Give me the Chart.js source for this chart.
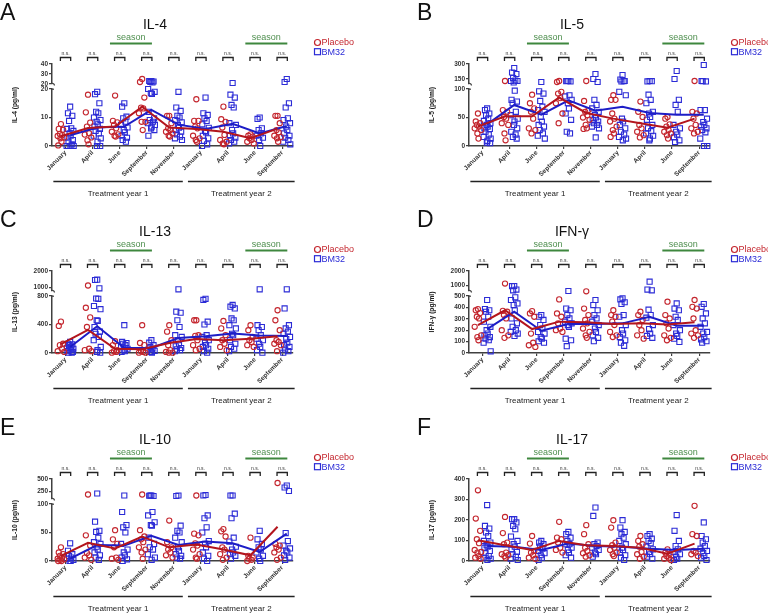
<!DOCTYPE html>
<html>
<head>
<meta charset="utf-8">
<script src="https://cdn.jsdelivr.net/npm/chart.js@4"></script>
<style>
html,body{margin:0;padding:0;width:768px;height:613px;overflow:hidden;background:#fff}
canvas{position:absolute}
</style>
</head>
<body>
<canvas id="pA" width="417" height="207" style="left:0;top:0;width:417px;height:207px"></canvas>
<canvas id="pB" width="417" height="207" style="left:417px;top:0;width:417px;height:207px"></canvas>
<canvas id="pC" width="417" height="207" style="left:0;top:207px;width:417px;height:207px"></canvas>
<canvas id="pD" width="417" height="207" style="left:417px;top:207px;width:417px;height:207px"></canvas>
<canvas id="pE" width="417" height="207" style="left:0;top:415px;width:417px;height:207px"></canvas>
<canvas id="pF" width="417" height="207" style="left:417px;top:415px;width:417px;height:207px"></canvas>
<script>
// time points (x categories)
const months = ['January','April','June','September','November','January','April','June','September'];
const seasonMonths = [[2,3],[7,8]];
const yearLabels = ['Treatment year 1','Treatment year 2'];

// IL-4
const il4Placebo = [
  [7.7,6,5.7,4.2,3.8,3.5,3,2.7,1.5,0.2],
  [18,11.8,8.2,6.8,4.5,4,3,2,0.6],
  [17.7,8.8,8.3,7.4,6.2,5,4.1,3.6,3.3],
  [25,22,17,13.5,13.2,11.5,8.5,8.5,5.6],
  [10.6,10.6,8,6.2,5.6,5,4.4,3.6,3.3],
  [16.4,8.8,8.8,6.8,6.2,3.6,2.7,2.1,1.5],
  [13.8,9.4,8.5,6.5,3.9,2.1,1.5,0.9,0.6],
  [4.1,3.6,3.3,2.7,2.1,1.5,0.9],
  [10.6,10.6,8,5.6,4.8,3.6,3.1,2.7,1.5]
];
const il4Bm32 = [
  [13.8,11.5,10.6,8.8,6.2,6,5.3,4.4,3.6,2.9,2.1,1.5,0.6,0,0,0],
  [19,18.2,15,12,11.5,10,9.1,8.5,7.6,6.8,6,5.3,4.4,3.6,2.7,1.5,0,0],
  [15,13.8,10.3,9.7,8.5,7.4,6.5,5.6,4.8,3.6,2.9,2.1,1.5],
  [23,23,22.5,22,21.5,20,19,18.5,18.3,12,9.7,9.1,8.5,8,7.4,6.8,6.2,5.6,3.6],
  [19,13.5,12.3,10.6,10,9.1,8.3,7.4,6.4,5.6,5,4.1,3.3,2.7,2.1],
  [17,11.5,10.9,9.7,8.8,7.6,6.4,5.3,4.8,3.6,2.7,1.8,0.6,0],
  [21,18,17,14.4,13.5,8,7.4,5.6,4.4,3.6,2.9,2.1,1.5,0.9],
  [10,9.5,6.2,5.6,4.4,3.6,2.9,2.1,0],
  [25,22,15,13.5,9.7,9.1,8,6.8,5.6,4.4,3.6,2.9,2.1,1.5,0.6]
];
const il4PlaceboMedian = [3.4,6.3,6.8,13.8,6.5,6,5,2.7,6.1];
const il4Bm32Median = [3.8,6.5,6.8,12.7,7.5,6,7.8,4.4,7];
const il4LowTicks = [0,10,20];
const il4TopTicks = [20,30,40];

// IL-5
const il5Placebo = [
  [57,43,40,37,34,31,28,22,13],
  [130,63,60,51,48,40,37,22,10],
  [90,75,66,60,48,31,28,22],
  [130,120,95,92,84,75,57,40],
  [130,79,63,60,54,50,46,37,31,30],
  [89,81,81,57,48,43,34,28,22,16],
  [78,60,51,37,31,25,19,15],
  [51,48,38,34,28,25,22,19,13],
  [130,60,57,48,37,31,25,22]
];
const il5Bm32 = [
  [66,63,57,54,48,44,40,37,34,31,30,25,20,16,13,9,6,5],
  [260,215,200,160,135,130,130,115,97,81,78,75,60,54,48,43,37,31,25,20,16,13],
  [120,96,92,79,69,63,60,51,43,37,34,28,22,18,13],
  [130,128,126,130,89,87,81,75,66,57,46,25,22],
  [200,150,120,81,72,66,60,54,50,46,43,40,37,34,31,15],
  [190,145,130,125,128,95,89,48,43,37,31,25,20,16,13,10],
  [130,126,128,90,81,75,60,57,51,46,37,31,26,22,18,13,10],
  [230,150,81,72,60,37,31,25,20,15,10,7],
  [290,130,126,128,63,63,48,42,37,34,31,28,24,13,0,0]
];
const il5PlaceboMedian = [34,52,52,85,58,48,40,32,48];
const il5Bm32Median = [38,72,55,80,62,69,58,55,55];
const il5LowTicks = [0,50,100];
const il5TopTicks = [150,300];

// IL-13
const il13Placebo = [
  [440,380,130,110,60,25,15],
  [1130,635,500,365,60,40,25],
  [165,110,40,25,15,5],
  [390,140,110,25,15,5,5],
  [390,300,180,110,40,15,5,5],
  [460,460,250,240,180,110,60,40],
  [450,345,250,180,130,85,40],
  [390,320,225,180,155,110,85],
  [600,460,320,180,155,130,110,25]
];
const il13Bm32 = [
  [155,130,120,110,85,70,60,50,40,25,15,5,5],
  [1480,1460,960,765,760,660,615,460,450,365,300,270,225,180,85,40,15,5],
  [390,155,140,130,110,85,60,40,25,15],
  [180,145,110,85,60,45,30,15,5],
  [900,580,565,460,365,250,225,180,130,95,70,50,40,25],
  [760,745,440,400,250,225,180,145,110,85,60,25,5],
  [675,650,625,485,460,390,345,270,250,180,130,85,60,25],
  [900,390,365,320,250,200,180,130,85,40,5],
  [900,625,390,345,300,270,225,195,145,110,85,50,25,5]
];
const il13PlaceboMedian = [125,325,60,52,140,195,180,200,235];
const il13Bm32Median = [85,375,70,70,210,235,275,245,240];
const il13LowTicks = [0,400,800];
const il13TopTicks = [1000,2000];

// IFN-gamma
const ifngPlacebo = [
  [385,375,350,318,303,230,155,140,112],
  [1120,370,362,333,303,200,155,133],
  [367,347,318,170,90,68,53],
  [470,347,318,260,215,200,185],
  [580,390,333,290,260,215,185,155,133],
  [375,333,318,275,245,185,155,140],
  [362,333,290,245,200,155,126],
  [450,333,303,260,215,155,133,112],
  [465,405,390,303,200,170,155,133]
];
const ifngBm32 = [
  [465,385,375,362,318,275,230,200,170,155,140,126,112,90,15],
  [950,940,700,650,488,465,435,420,375,303,260,230,200,185,170,150],
  [333,318,290,245,215,185,170,140,126,103,90],
  [600,390,375,333,303,275,260,245,230,126,112,60],
  [465,420,375,333,303,275,245,215,185,155,133,103],
  [480,470,445,430,333,318,245,200,170,140,112,90,63],
  [1250,700,650,380,333,310,245,210,170,150,133],
  [435,390,375,318,290,245,200,170,150,126,97],
  [430,405,347,303,260,230,185,170,140,120,103,90]
];
const ifngPlaceboMedian = [245,375,210,275,270,255,260,250,270];
const ifngBm32Median = [210,362,195,255,255,260,318,240,240];
const ifngLowTicks = [0,100,200,300,400,500];
const ifngTopTicks = [1000,2000];

// IL-10
const il10Placebo = [
  [24,15,12,9,6,4,3,2,0,0],
  [190,45,27,14,10,6,2],
  [54,38,30,24,6,4,2],
  [190,54,43,38,33,24,20,15,4],
  [71,33,24,20,15,10,6],
  [170,48,45,31,27,20,12,6,4],
  [56,52,43,24,20,12,6,2],
  [41,9,6,4,2,0],
  [420,30,27,24,20,15,6,2]
];
const il10Bm32 = [
  [31,18,12,9,6,4,2,0,0],
  [210,69,53,51,41,33,30,25,20,15,10,6,2],
  [170,86,63,59,50,30,20,15,10,6,3,0],
  [170,165,160,170,86,80,68,63,62,41,30,24,20,12,6,2],
  [170,160,62,53,50,41,33,24,18,12,9,6,4],
  [180,170,80,75,59,50,35,30,24,15,9,4,0],
  [170,170,83,75,41,34,25,20,15,12,9,4],
  [53,38,30,24,20,15,9,4,0],
  [370,330,260,49,35,27,22,18,15,10,6,2]
];
const il10PlaceboMedian = [9,32,22,43,24,29,20,10,60];
const il10Bm32Median = [4,28,27,44,28,34,31,16,48];
const il10LowTicks = [0,50,100];
const il10TopTicks = [250,500];

// IL-17
const il17Placebo = [
  [345,207,147,106,87,54,44,41,24,16,11],
  [215,136,90,82,41,33,28,24,16],
  [122,85,49,41,28,16,11],
  [191,114,106,90,65,54,41],
  [175,131,82,65,49,38,28,21],
  [199,163,90,77,65,54,41,33,24],
  [122,98,82,70,44,33,21,11],
  [57,41,33,24,16,11,5],
  [269,131,122,49,41,33,24]
];
const il17Bm32 = [
  [273,171,158,139,122,98,90,77,70,65,49,38,24,16,11,5],
  [204,204,188,171,155,119,98,82,70,57,44,33,21,11,5],
  [98,90,82,70,60,49,38,28,16,5],
  [142,131,114,98,82,82,65,54,41,28,16],
  [261,220,90,82,73,65,54,41,33,21],
  [199,163,142,131,114,98,82,65,54,41,28,16,5],
  [131,122,109,98,87,70,57,44,33,21,11],
  [224,147,98,73,57,44,33,21,11,5],
  [188,122,106,90,73,60,49,38,24,16,5]
];
const il17PlaceboMedian = [101,77,54,98,77,73,65,36,85];
const il17Bm32Median = [73,70,54,85,73,70,60,54,60];
const il17Ticks = [0,100,200,300,400];

const FONT = '"Liberation Sans", Arial, Helvetica, sans-serif';
const RED = '#c4262e', BLUE = '#2b2bd6', RED_LINE = '#b3151d', BLUE_LINE = '#1d1dc6';
const GREEN = '#3e873e', AXIS = '#404040';
const jitter = [0,-0.08,0.08,-0.04,0.04,-0.12,0.12,-0.02,0.02,-0.1,0.1,-0.06,0.06,-0.13,0.13,0.01,-0.01,0.11,-0.11,0.05,-0.05,0.09];
const SIDE = 0.17;

const decor = {
  id: 'decor',
  afterDraw(chart, args, o) {
    const ctx = chart.ctx, a = chart.chartArea, sx = chart.scales.x;
    const px = v => sx.getPixelForValue(v);
    ctx.save();
    ctx.fillStyle = '#111';
    ctx.textAlign = 'left'; ctx.textBaseline = 'alphabetic';
    ctx.font = '23px ' + FONT;
    ctx.fillText(o.letter, 0, 20);
    ctx.textAlign = 'center';
    ctx.font = '14px ' + FONT;
    ctx.fillText(o.title, 155, 29);

    // season bars
    seasonMonths.forEach(([s, e]) => {
      const x0 = px(s - 0.36), x1 = px(e + 0.19);
      ctx.strokeStyle = GREEN; ctx.lineWidth = 2;
      ctx.beginPath(); ctx.moveTo(x0, 43.5); ctx.lineTo(x1, 43.5); ctx.stroke();
      ctx.fillStyle = '#4f8f4f'; ctx.font = '9px ' + FONT;
      ctx.fillText('season', (x0 + x1) / 2, 39.5);
    });

    // n.s. brackets
    ctx.strokeStyle = '#222'; ctx.lineWidth = 1.3;
    ctx.fillStyle = '#333'; ctx.font = '5px ' + FONT;
    months.forEach((m, i) => {
      const l = px(i - 0.19), r = px(i + 0.19);
      ctx.beginPath(); ctx.moveTo(l, 61); ctx.lineTo(l, 57.5); ctx.lineTo(r, 57.5); ctx.lineTo(r, 61); ctx.stroke();
      ctx.fillText('n.s.', (l + r) / 2, 55);
    });

    // legend
    ctx.lineWidth = 1.2;
    ctx.strokeStyle = RED;
    ctx.beginPath(); ctx.arc(317.5, 42.5, 3, 0, Math.PI * 2); ctx.stroke();
    ctx.strokeStyle = BLUE;
    ctx.strokeRect(314.5, 48.7, 6, 6);
    ctx.font = '9px ' + FONT; ctx.textAlign = 'left'; ctx.textBaseline = 'middle';
    ctx.fillStyle = RED; ctx.fillText('Placebo', 321.5, 43);
    ctx.fillStyle = BLUE; ctx.fillText('BM32', 321.5, 52.2);

    // axis break marks
    if (chart.scales.yTop) {
      const ax = a.left, yb = chart.scales.yTop.bottom, yt = chart.scales.y.top;
      ctx.strokeStyle = AXIS; ctx.lineWidth = 1.2;
      ctx.beginPath(); ctx.moveTo(ax - 0.5, yb - 1); ctx.quadraticCurveTo(ax + 2.5, yb - 0.5, ax + 2.5, yb + 1.5); ctx.stroke();
      ctx.beginPath(); ctx.moveTo(ax - 0.5, yt + 0.2); ctx.lineTo(ax + 2, yt + 0.2); ctx.stroke();
    }

    // y title
    ctx.save();
    ctx.translate(15, (a.top + a.bottom) / 2);
    ctx.rotate(-Math.PI / 2);
    ctx.font = 'bold 6.7px ' + FONT; ctx.textAlign = 'center'; ctx.textBaseline = 'middle';
    ctx.fillStyle = '#222';
    ctx.fillText(o.yTitle, 0, 0);
    ctx.restore();

    // treatment year lines
    const yearSpans = [[-0.45, 4.33], [4.52, 8.46]];
    ctx.strokeStyle = '#222'; ctx.lineWidth = 1.5;
    ctx.fillStyle = '#222'; ctx.font = '8px ' + FONT; ctx.textAlign = 'center'; ctx.textBaseline = 'alphabetic';
    yearSpans.forEach(([s, e], k) => {
      const x0 = px(s), x1 = px(e);
      ctx.beginPath(); ctx.moveTo(x0, 181.5); ctx.lineTo(x1, 181.5); ctx.stroke();
      ctx.fillText(yearLabels[k], (x0 + x1) / 2, 196);
    });
    ctx.restore();
  }
};

function points(groups, side, keep) {
  const out = [];
  groups.forEach((g, i) => g.forEach((v, k) => {
    if (keep(v)) out.push({x: i + side + jitter[k % jitter.length], y: v});
  }));
  return out;
}

function yAxis(extra) {
  return Object.assign({
    position: 'left',
    ticks: {font: {family: FONT, size: 6.5, weight: 'bold'}, color: '#333', padding: 1, autoSkip: false, callback: v => String(v)},
    grid: {display: true, drawOnChartArea: false, tickLength: 3, color: AXIS, lineWidth: 1.2},
    border: {color: AXIS, width: 1.5},
    afterFit: s => { s.width = 30; }
  }, extra);
}

function makePanel(p) {
  const broken = !!p.topTicks;
  const low = v => !broken || v <= p.lowMax;
  const high = v => broken && v > p.lowMax;
  const scatterSet = (data, color, style, radius, axis) => ({
    type: 'scatter', data, yAxisID: axis, showLine: false, clip: false,
    pointStyle: style, pointRadius: radius, borderColor: color, backgroundColor: 'rgba(0,0,0,0)',
    pointBorderWidth: 1.1, pointBackgroundColor: 'rgba(0,0,0,0)'
  });
  const lineSet = (vals, side, color) => ({
    type: 'line', data: vals.map((v, i) => ({x: i + side, y: v})), yAxisID: 'y',
    borderColor: color, borderWidth: 2, pointRadius: 0, fill: false, tension: 0
  });
  const datasets = [
    lineSet(p.pMed, -SIDE, RED_LINE),
    lineSet(p.bMed, SIDE, BLUE_LINE),
    scatterSet(points(p.placebo, -SIDE, low), RED, 'circle', 2.6, 'y'),
    scatterSet(points(p.bm32, SIDE, low), BLUE, 'rect', 3.6, 'y')
  ];
  if (broken) {
    datasets.push(scatterSet(points(p.placebo, -SIDE, high), RED, 'circle', 2.6, 'yTop'));
    datasets.push(scatterSet(points(p.bm32, SIDE, high), BLUE, 'rect', 3.6, 'yTop'));
  }
  const scales = {
    x: {
      type: 'linear', min: -0.5, max: 8.4,
      afterBuildTicks: s => { s.ticks = months.map((m, i) => ({value: i})); },
      ticks: {callback: (v, i) => months[i], minRotation: 45, maxRotation: 45, autoSkip: false,
              font: {family: FONT, size: 6.5, weight: 'bold'}, color: '#333', padding: 0},
      grid: {display: true, drawOnChartArea: false, tickLength: 3, color: AXIS, lineWidth: 1.2},
      border: {color: AXIS, width: 1.5},
      afterFit: s => { s.height = 30; }
    }
  };
  // stacked left axes: listed bottom-first (Chart.js places left stacks in reverse order)
  scales.y = yAxis({min: 0, max: p.lowMax,
    afterBuildTicks: s => { s.ticks = p.lowTicks.map(v => ({value: v})); }});
  if (broken) {
    Object.assign(scales.y, {stack: 'left', stackWeight: 57});
    scales.yGap = {position: 'left', stack: 'left', stackWeight: 5, min: 0, max: 1,
      ticks: {display: false}, grid: {display: false}, border: {display: false},
      afterFit: s => { s.width = 30; }};
    scales.yTop = yAxis({stack: 'left', stackWeight: 20, min: p.topRange[0], max: p.topRange[1],
      afterBuildTicks: s => { s.ticks = p.topTicks.map(v => ({value: v})); }});
  }
  new Chart(document.getElementById(p.id), {
    type: 'scatter',
    data: {datasets},
    options: {
      responsive: false, animation: false, events: [],
      layout: {padding: {left: 22, right: 124, top: 64, bottom: 31}},
      plugins: {legend: {display: false}, tooltip: {enabled: false},
        decor: {letter: p.letter, title: p.title, yTitle: p.yTitle}},
      scales
    },
    plugins: [decor]
  });
}

[
  {id: 'pA', letter: 'A', title: 'IL-4', yTitle: 'IL-4 (pg/ml)', placebo: il4Placebo, bm32: il4Bm32,
   pMed: il4PlaceboMedian, bMed: il4Bm32Median, lowMax: 20, lowTicks: il4LowTicks, topRange: [20, 40], topTicks: il4TopTicks},
  {id: 'pB', letter: 'B', title: 'IL-5', yTitle: 'IL-5 (pg/ml)', placebo: il5Placebo, bm32: il5Bm32,
   pMed: il5PlaceboMedian, bMed: il5Bm32Median, lowMax: 100, lowTicks: il5LowTicks, topRange: [100, 300], topTicks: il5TopTicks},
  {id: 'pC', letter: 'C', title: 'IL-13', yTitle: 'IL-13 (pg/ml)', placebo: il13Placebo, bm32: il13Bm32,
   pMed: il13PlaceboMedian, bMed: il13Bm32Median, lowMax: 800, lowTicks: il13LowTicks, topRange: [800, 2000], topTicks: il13TopTicks},
  {id: 'pD', letter: 'D', title: 'IFN-γ', yTitle: 'IFN-γ (pg/ml)', placebo: ifngPlacebo, bm32: ifngBm32,
   pMed: ifngPlaceboMedian, bMed: ifngBm32Median, lowMax: 500, lowTicks: ifngLowTicks, topRange: [600, 2000], topTicks: ifngTopTicks},
  {id: 'pE', letter: 'E', title: 'IL-10', yTitle: 'IL-10 (pg/ml)', placebo: il10Placebo, bm32: il10Bm32,
   pMed: il10PlaceboMedian, bMed: il10Bm32Median, lowMax: 100, lowTicks: il10LowTicks, topRange: [100, 500], topTicks: il10TopTicks},
  {id: 'pF', letter: 'F', title: 'IL-17', yTitle: 'IL-17 (pg/ml)', placebo: il17Placebo, bm32: il17Bm32,
   pMed: il17PlaceboMedian, bMed: il17Bm32Median, lowMax: 400, lowTicks: il17Ticks}
].forEach(makePanel);
</script>
</body>
</html>
